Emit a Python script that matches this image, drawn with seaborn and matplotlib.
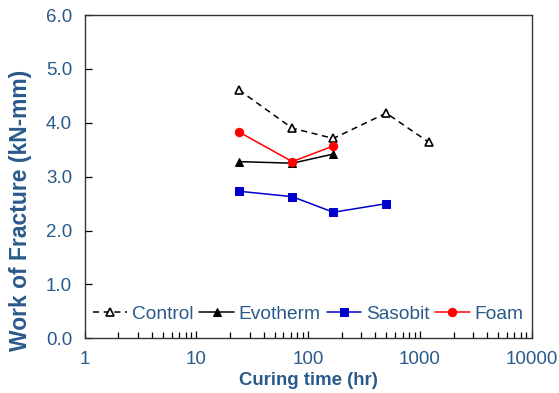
import matplotlib
matplotlib.use("Agg")
import matplotlib.pyplot as plt
import matplotlib.ticker as mticker
import seaborn as sns
import pandas as pd

# Curing times (hr) and work of fracture (kN-mm) per mix
control_hr = [24, 72, 168, 500, 1200]
control_wf = [4.61, 3.90, 3.71, 4.18, 3.64]

evotherm_hr = [24, 72, 168]
evotherm_wf = [3.28, 3.25, 3.42]

sasobit_hr = [24, 72, 168, 500]
sasobit_wf = [2.73, 2.63, 2.34, 2.50]

foam_hr = [24, 72, 168]
foam_wf = [3.83, 3.28, 3.57]

x_ticks = [1, 10, 100, 1000, 10000]
x_tick_labels = ["1", "10", "100", "1000", "10000"]
y_ticks = [0, 1, 2, 3, 4, 5, 6]
y_tick_labels = ["0.0", "1.0", "2.0", "3.0", "4.0", "5.0", "6.0"]

sns.set_theme(style="white")
plt.rcParams["font.family"] = ["Liberation Sans", "DejaVu Sans"]

text_color = "#2A5A8A"

fig = plt.figure(figsize=(5.59, 3.93), dpi=100)
ax = fig.add_axes([0.1515, 0.139, 0.7995, 0.8228])

series = [
    ("Control", control_hr, control_wf,
     dict(color="black", linestyle=(0, (4, 3)), marker="^", markerfacecolor="white",
          markeredgecolor="black", markersize=5.5, markeredgewidth=1.2, linewidth=1.1)),
    ("Evotherm", evotherm_hr, evotherm_wf,
     dict(color="black", linestyle="-", marker="^", markerfacecolor="black",
          markeredgecolor="black", markersize=6, linewidth=1.1)),
    ("Sasobit", sasobit_hr, sasobit_wf,
     dict(color="#0000CC", linestyle="-", marker="s", markerfacecolor="#0000CC",
          markeredgecolor="#0000CC", markersize=5.5, linewidth=1.1)),
    ("Foam", foam_hr, foam_wf,
     dict(color="#FF0000", linestyle="-", marker="o", markerfacecolor="#FF0000",
          markeredgecolor="#FF0000", markersize=6, linewidth=1.1)),
]

for name, hr, wf, style in series:
    df = pd.DataFrame({"hr": hr, "wf": wf})
    sns.lineplot(data=df, x="hr", y="wf", ax=ax, label=name, sort=False,
                 **style)

ax.set_xscale("log")
ax.set_xlim(1, 10000)
ax.set_ylim(0, 6)
ax.set_xticks(x_ticks)
ax.set_xticklabels(x_tick_labels)
ax.xaxis.set_minor_locator(mticker.LogLocator(base=10, subs=range(2, 10)))
ax.xaxis.set_minor_formatter(mticker.NullFormatter())
ax.set_yticks(y_ticks)
ax.set_yticklabels(y_tick_labels)

ax.tick_params(axis="both", which="both", direction="in", colors="black",
               labelcolor=text_color, labelsize=13.5, width=0.9)
ax.tick_params(axis="x", which="major", length=5, pad=9, bottom=True)
ax.tick_params(axis="x", which="minor", length=4, bottom=True)
ax.tick_params(axis="y", which="major", length=5, pad=9, left=True)

for side in ["left", "bottom", "right", "top"]:
    ax.spines[side].set_color("#333333")
    ax.spines[side].set_linewidth(1.0)

ax.set_xlabel("Curing time (hr)", fontsize=13.4, fontweight="bold",
              color=text_color, labelpad=3)
ax.set_ylabel("Work of Fracture (kN-mm)", fontsize=16.5, fontweight="bold",
              color=text_color)
ax.yaxis.set_label_coords(-0.118, 0.395)

leg = ax.legend(loc="lower center", bbox_to_anchor=(0.5, 0.025), ncol=4,
                frameon=False, fontsize=13.8, handlelength=1.8,
                handletextpad=0.25, columnspacing=0.3, borderaxespad=0)
for t in leg.get_texts():
    t.set_color(text_color)

fig.savefig("out.png", dpi=100)
